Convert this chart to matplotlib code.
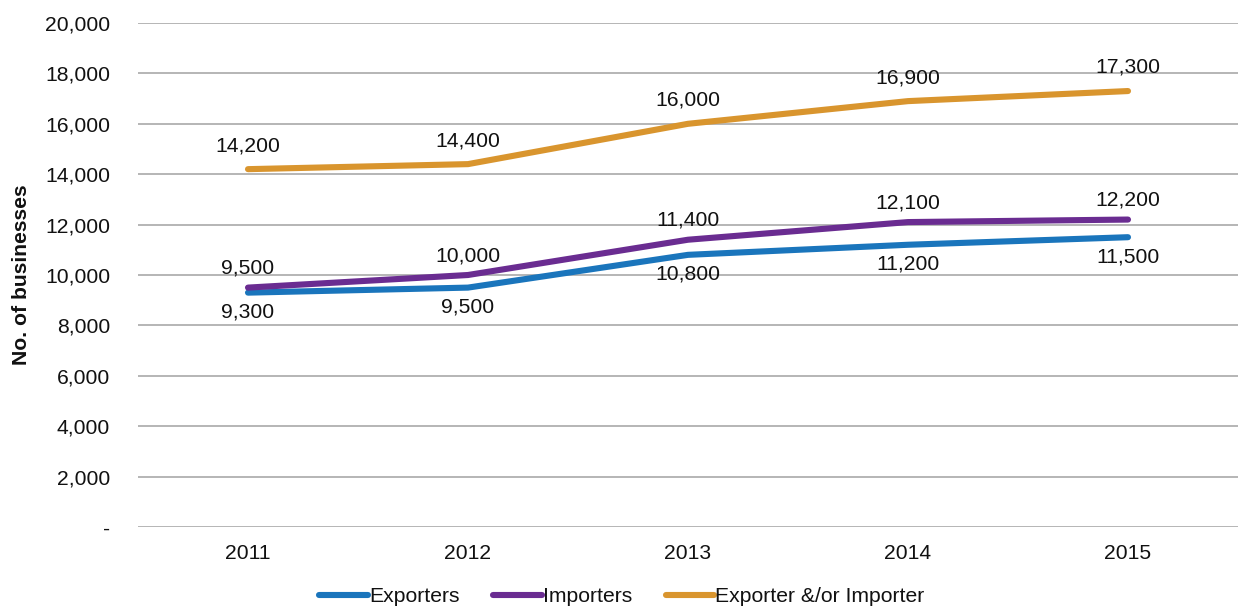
import matplotlib
matplotlib.use("Agg")
import matplotlib.pyplot as plt
from matplotlib.ticker import FuncFormatter

years = ["2011", "2012", "2013", "2014", "2015"]
exporters = [9300, 9500, 10800, 11200, 11500]
importers = [9500, 10000, 11400, 12100, 12200]
either = [14200, 14400, 16000, 16900, 17300]

plt.rcParams["font.family"] = ["Liberation Sans", "DejaVu Sans"]
FS = 15.2

fig = plt.figure(figsize=(12.38, 6.07), dpi=100)
ax = fig.add_axes([138 / 1238, 1 - 527 / 607, 1 - 138 / 1238, (527 - 23) / 607])

x = list(range(len(years)))
series = [
    ("Exporters", exporters, "#1a75bc", -1),
    ("Importers", importers, "#6a2c91", 1),
    ("Exporter &/or Importer", either, "#d9952e", 1),
]
for name, vals, col, side in series:
    ax.plot(x, vals, color=col, lw=4.4, solid_capstyle="round", label=name, zorder=3)
    for xi, v in zip(x, vals):
        off = 14 if side > 0 else -14
        if name.startswith("Exporter &"):
            off = 17
        ax.annotate(f"{v:,}", (xi, v), xytext=(0, off), textcoords="offset points",
                    ha="center", va="center", fontsize=FS, color="#111111", zorder=4)

ax.set_xlim(-0.5, 4.5)
ax.set_ylim(0, 20000)
ax.set_yticks(range(0, 20001, 2000))
ax.yaxis.set_major_formatter(FuncFormatter(lambda v, p: "-" if v == 0 else f"{int(v):,}"))
ax.set_xticks(x)
ax.set_xticklabels(years)
ax.tick_params(axis="both", length=0, labelsize=FS, colors="#111111")
ax.tick_params(axis="x", pad=12)
ax.tick_params(axis="y", pad=20)
ax.grid(axis="y", color="#b0b0b0", lw=1.3, zorder=0)
for s in ax.spines.values():
    s.set_visible(False)
ax.set_ylabel("No. of businesses", fontsize=FS, fontweight="bold", labelpad=10,
              color="#111111")

leg = fig.legend(loc="center", bbox_to_anchor=(622 / 1238, 1 - 597 / 607), ncol=3,
                 frameon=False, fontsize=FS, handlelength=2.3, handletextpad=0.05,
                 columnspacing=1.6, borderaxespad=0)
for t in leg.get_texts():
    t.set_color("#111111")
for h in leg.get_lines():
    h.set_linewidth(4.4)

fig.savefig("out.png", dpi=100)
